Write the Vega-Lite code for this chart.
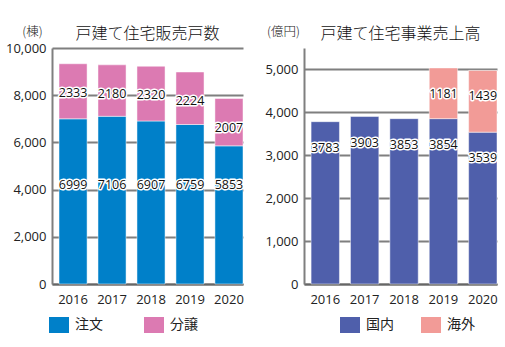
{
  "$schema": "https://vega.github.io/schema/vega-lite/v6.json",
  "background": "white",
  "padding": {"left": 5, "top": 25, "right": 0, "bottom": 0},
  "spacing": 20,
  "resolve": {"scale": {"color": "independent", "x": "independent", "y": "independent"}, "legend": {"color": "independent"}},
  "config": {
    "view": {"stroke": null},
    "axis": {"labelFont": "Open Sans", "labelFontSize": 13, "labelColor": "#222222", "ticks": false, "tickSize": 0, "titleFont": "Noto Sans CJK JP", "titleFontWeight": 300, "titleColor": "#222222"},
    "title": {"font": "Noto Sans CJK JP", "fontSize": 16, "fontWeight": 300, "color": "#111111"},
    "legend": {"title": null, "orient": "none", "direction": "horizontal", "symbolType": "M-1,-0.8H1V0.8H-1Z", "symbolSize": 400, "symbolStrokeWidth": 0, "labelFont": "Noto Sans CJK JP", "labelFontSize": 14, "labelOffset": 6, "labelColor": "#222222"}
  },
  "hconcat": [
    {
      "width": 191,
      "height": 236,
      "title": {"text": "戸建て住宅販売戸数", "anchor": "middle", "baseline": "middle", "offset": -25},
      "data": {"values": [
        {"year": "2016", "type": "注文", "value": 6999, "order": 1},
        {"year": "2016", "type": "分譲", "value": 2333, "order": 2},
        {"year": "2017", "type": "注文", "value": 7106, "order": 1},
        {"year": "2017", "type": "分譲", "value": 2180, "order": 2},
        {"year": "2018", "type": "注文", "value": 6907, "order": 1},
        {"year": "2018", "type": "分譲", "value": 2320, "order": 2},
        {"year": "2019", "type": "注文", "value": 6759, "order": 1},
        {"year": "2019", "type": "分譲", "value": 2224, "order": 2},
        {"year": "2020", "type": "注文", "value": 5853, "order": 1},
        {"year": "2020", "type": "分譲", "value": 2007, "order": 2}
      ]},
      "transform": [{"stack": "value", "groupby": ["year"], "sort": [{"field": "order", "order": "ascending"}], "as": ["v0", "v1"]}],
      "encoding": {
        "x": {"field": "year", "type": "ordinal", "scale": {"paddingInner": 0.28, "paddingOuter": 0.09, "align": 1}, "axis": {"title": null, "labelAngle": 0, "labelPadding": 9, "domainColor": "#666666", "domainWidth": 2, "grid": false}}
      },
      "layer": [
        {
          "mark": {"type": "bar", "stroke": "white", "strokeWidth": 0.8, "strokeOpacity": 0.6},
          "encoding": {
            "y": {"field": "v1", "type": "quantitative", "scale": {"domain": [0, 10000], "nice": false},
              "axis": {"title": "(棟)", "titleAngle": 0, "titleX": -20, "titleY": -17, "titleAlign": "center", "titleBaseline": "middle", "titleFontSize": 12.5,
                "values": [0, 1000, 2000, 3000, 4000, 5000, 6000, 7000, 8000, 9000, 10000],
                "labelExpr": "datum.value % 2000 == 0 ? format(datum.value, ',') : ''",
                "labelPadding": 6, "domainColor": "#7f7f7f", "domainWidth": 2, "grid": true,
                "gridColor": {"condition": {"test": "datum.value % 2000 == 0", "value": "#7f7f7f"}, "value": "#000000"},
                "gridWidth": {"condition": {"test": "datum.value % 2000 == 0", "value": 2}, "value": 1}}},
            "y2": {"field": "v0"},
            "color": {"field": "type", "type": "nominal", "scale": {"domain": ["注文", "分譲"], "range": ["#0080C9", "#DC7AB2"]},
              "legend": {"legendX": -3, "legendY": 267, "columnPadding": 41}}
          }
        },
        {
          "transform": [{"filter": "datum.type == '注文'"}],
          "mark": {"type": "text", "font": "Open Sans", "fontSize": 12.5, "baseline": "middle", "stroke": "white", "strokeWidth": 3, "strokeJoin": "round"},
          "encoding": {"y": {"datum": 4200, "type": "quantitative"}, "text": {"field": "value", "type": "quantitative", "format": "d"}}
        },
        {
          "transform": [{"filter": "datum.type == '注文'"}],
          "mark": {"type": "text", "font": "Open Sans", "fontSize": 12.5, "baseline": "middle", "fill": "#111111"},
          "encoding": {"y": {"datum": 4200, "type": "quantitative"}, "text": {"field": "value", "type": "quantitative", "format": "d"}}
        },
        {
          "transform": [{"filter": "datum.type == '分譲'"}],
          "mark": {"type": "text", "font": "Open Sans", "fontSize": 12.5, "baseline": "middle", "dy": 29, "stroke": "white", "strokeWidth": 3, "strokeJoin": "round"},
          "encoding": {"y": {"field": "v1", "type": "quantitative"}, "text": {"field": "value", "type": "quantitative", "format": "d"}}
        },
        {
          "transform": [{"filter": "datum.type == '分譲'"}],
          "mark": {"type": "text", "font": "Open Sans", "fontSize": 12.5, "baseline": "middle", "dy": 29, "fill": "#111111"},
          "encoding": {"y": {"field": "v1", "type": "quantitative"}, "text": {"field": "value", "type": "quantitative", "format": "d"}}
        }
      ]
    },
    {
      "width": 193,
      "height": 236,
      "title": {"text": "戸建て住宅事業売上高", "anchor": "middle", "baseline": "middle", "offset": -25},
      "data": {"values": [
        {"year": "2016", "type": "国内", "value": 3783, "order": 1},
        {"year": "2017", "type": "国内", "value": 3903, "order": 1},
        {"year": "2018", "type": "国内", "value": 3853, "order": 1},
        {"year": "2019", "type": "国内", "value": 3854, "order": 1},
        {"year": "2019", "type": "海外", "value": 1181, "order": 2},
        {"year": "2020", "type": "国内", "value": 3539, "order": 1},
        {"year": "2020", "type": "海外", "value": 1439, "order": 2}
      ]},
      "transform": [{"stack": "value", "groupby": ["year"], "sort": [{"field": "order", "order": "ascending"}], "as": ["v0", "v1"]}],
      "encoding": {
        "x": {"field": "year", "type": "ordinal", "scale": {"paddingInner": 0.28, "paddingOuter": 0.09, "align": 1}, "axis": {"title": null, "labelAngle": 0, "labelPadding": 9, "domainColor": "#666666", "domainWidth": 2, "grid": false}}
      },
      "layer": [
        {
          "mark": {"type": "bar", "stroke": "white", "strokeWidth": 0.8, "strokeOpacity": 0.6},
          "encoding": {
            "y": {"field": "v1", "type": "quantitative", "scale": {"domain": [0, 5500], "nice": false},
              "axis": {"title": "(億円)", "titleAngle": 0, "titleX": -21, "titleY": -17, "titleAlign": "center", "titleBaseline": "middle", "titleFontSize": 12.5,
                "values": [0, 500, 1000, 1500, 2000, 2500, 3000, 3500, 4000, 4500, 5000, 5500],
                "labelExpr": "datum.value % 1000 == 0 ? format(datum.value, ',') : ''",
                "labelPadding": 6, "domainColor": "#7f7f7f", "domainWidth": 2, "grid": true,
                "gridColor": {"condition": {"test": "datum.value % 1000 == 0 || datum.value == 5500", "value": "#7f7f7f"}, "value": "#000000"},
                "gridWidth": {"condition": {"test": "datum.value % 1000 == 0 || datum.value == 5500", "value": 2}, "value": 1}}},
            "y2": {"field": "v0"},
            "color": {"field": "type", "type": "nominal", "scale": {"domain": ["国内", "海外"], "range": ["#4F5FAB", "#F29B97"]},
              "legend": {"legendX": 36, "legendY": 267, "columnPadding": 27}}
          }
        },
        {
          "transform": [{"filter": "datum.type == '国内'"}],
          "mark": {"type": "text", "font": "Open Sans", "fontSize": 12.5, "baseline": "middle", "dy": 26, "stroke": "white", "strokeWidth": 3, "strokeJoin": "round"},
          "encoding": {"y": {"field": "v1", "type": "quantitative"}, "text": {"field": "value", "type": "quantitative", "format": "d"}}
        },
        {
          "transform": [{"filter": "datum.type == '国内'"}],
          "mark": {"type": "text", "font": "Open Sans", "fontSize": 12.5, "baseline": "middle", "dy": 26, "fill": "#111111"},
          "encoding": {"y": {"field": "v1", "type": "quantitative"}, "text": {"field": "value", "type": "quantitative", "format": "d"}}
        },
        {
          "transform": [{"filter": "datum.type == '海外'"}],
          "mark": {"type": "text", "font": "Open Sans", "fontSize": 12.5, "baseline": "middle", "dy": 26, "stroke": "white", "strokeWidth": 3, "strokeJoin": "round"},
          "encoding": {"y": {"field": "v1", "type": "quantitative"}, "text": {"field": "value", "type": "quantitative", "format": "d"}}
        },
        {
          "transform": [{"filter": "datum.type == '海外'"}],
          "mark": {"type": "text", "font": "Open Sans", "fontSize": 12.5, "baseline": "middle", "dy": 26, "fill": "#111111"},
          "encoding": {"y": {"field": "v1", "type": "quantitative"}, "text": {"field": "value", "type": "quantitative", "format": "d"}}
        }
      ]
    }
  ]
}
